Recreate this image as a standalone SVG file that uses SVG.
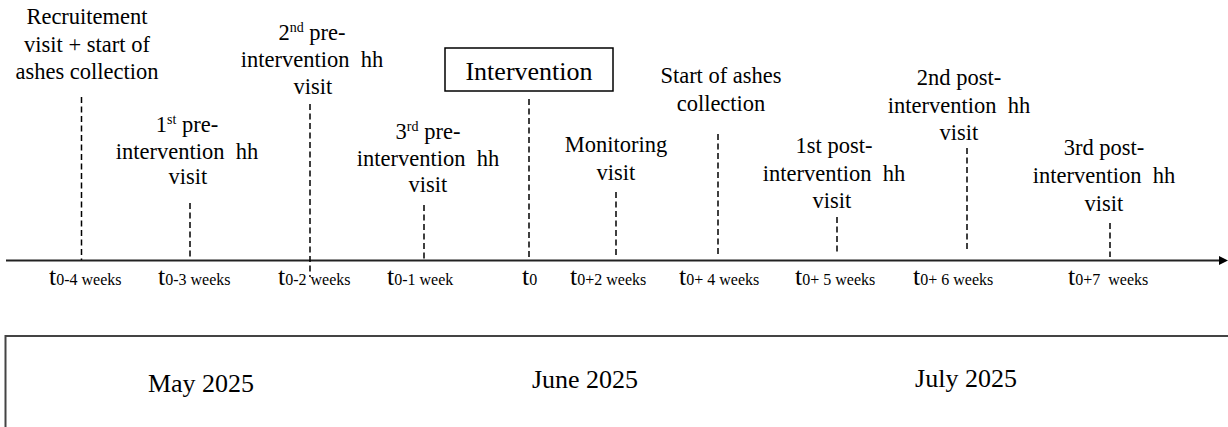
<svg xmlns="http://www.w3.org/2000/svg" width="1228" height="427" viewBox="0 0 1228 427" font-family="'Liberation Serif','Times New Roman',serif">
<style>
text, tspan{font-family:"Liberation Serif","Times New Roman",serif;fill:#000;}
.lb{font-size:22.5px;text-anchor:middle;}
.sup{font-size:14px;}
.big{font-size:26px;}
.sub{font-size:16px;}
.mon{font-size:26px;text-anchor:middle;}
.int{font-size:26px;text-anchor:middle;}
.dash{stroke:#000;stroke-width:1.5;stroke-dasharray:6 3.5;fill:none;}
</style>
<rect width="1228" height="427" fill="#fff"/>
<g id="connectors">
<line x1="6" y1="260.5" x2="1220" y2="260.5" stroke="#222" stroke-width="1.8"/>
<polygon points="1219,256 1228,260.5 1219,265" fill="#000"/>
<line class="dash" x1="81.5" y1="97" x2="81.5" y2="260"/>
<line class="dash" x1="190" y1="203" x2="190" y2="260"/>
<line class="dash" x1="310" y1="104" x2="310" y2="277"/>
<line class="dash" x1="424" y1="205" x2="424" y2="260"/>
<line class="dash" x1="529" y1="99" x2="529" y2="260"/>
<line class="dash" x1="616" y1="192" x2="616" y2="258"/>
<line class="dash" x1="718" y1="134" x2="718" y2="257"/>
<line class="dash" x1="837" y1="217" x2="837" y2="252"/>
<line class="dash" x1="967" y1="148" x2="967" y2="252"/>
<line class="dash" x1="1110" y1="223" x2="1110" y2="257"/>
</g>
<g id="recruitment">
<text class="lb" x="87" y="24">Recruitement</text>
<text class="lb" x="87" y="51.5">visit + start of</text>
<text class="lb" x="87" y="79">ashes collection</text>
</g>
<g id="pre1">
<text class="lb" x="187" y="132">1<tspan class="sup" dy="-8">st</tspan><tspan dy="8"> pre-</tspan></text>
<text class="lb" x="187" y="159" xml:space="preserve">intervention  hh</text>
<text class="lb" x="188" y="184">visit</text>
</g>
<g id="pre2">
<text class="lb" x="312" y="40">2<tspan class="sup" dy="-8">nd</tspan><tspan dy="8"> pre-</tspan></text>
<text class="lb" x="312" y="67" xml:space="preserve">intervention  hh</text>
<text class="lb" x="313" y="94">visit</text>
</g>
<g id="pre3">
<text class="lb" x="428" y="139">3<tspan class="sup" dy="-8">rd</tspan><tspan dy="8"> pre-</tspan></text>
<text class="lb" x="428" y="166" xml:space="preserve">intervention  hh</text>
<text class="lb" x="428" y="192">visit</text>
</g>
<g id="intervention">
<rect x="445" y="48" width="168" height="43" fill="#fff" stroke="#000" stroke-width="1.5"/>
<text class="int" x="529" y="80">Intervention</text>
</g>
<g id="monitoring">
<text class="lb" x="616" y="152">Monitoring</text>
<text class="lb" x="616" y="180">visit</text>
</g>
<g id="ashes">
<text class="lb" x="721" y="83">Start of ashes</text>
<text class="lb" x="721" y="111">collection</text>
</g>
<g id="post1">
<text class="lb" x="834" y="153">1st post-</text>
<text class="lb" x="834" y="180.5" xml:space="preserve">intervention  hh</text>
<text class="lb" x="832" y="208">visit</text>
</g>
<g id="post2">
<text class="lb" x="959" y="85">2nd post-</text>
<text class="lb" x="959" y="113" xml:space="preserve">intervention  hh</text>
<text class="lb" x="959" y="140">visit</text>
</g>
<g id="post3">
<text class="lb" x="1104" y="155">3rd post-</text>
<text class="lb" x="1104" y="183" xml:space="preserve">intervention  hh</text>
<text class="lb" x="1104" y="211">visit</text>
</g>
<g id="ticks">
<text x="49" y="285"><tspan class="big">t</tspan><tspan class="sub">0-4 weeks</tspan></text>
<text x="158" y="285"><tspan class="big">t</tspan><tspan class="sub">0-3 weeks</tspan></text>
<text x="278" y="285"><tspan class="big">t</tspan><tspan class="sub">0-2 weeks</tspan></text>
<text x="387" y="285"><tspan class="big">t</tspan><tspan class="sub">0-1 week</tspan></text>
<text x="522" y="285"><tspan class="big">t</tspan><tspan class="sub">0</tspan></text>
<text x="570" y="285"><tspan class="big">t</tspan><tspan class="sub">0+2 weeks</tspan></text>
<text x="679" y="285"><tspan class="big">t</tspan><tspan class="sub">0+ 4 weeks</tspan></text>
<text x="795" y="285"><tspan class="big">t</tspan><tspan class="sub">0+ 5 weeks</tspan></text>
<text x="913" y="285"><tspan class="big">t</tspan><tspan class="sub">0+ 6 weeks</tspan></text>
<text x="1068" y="285" xml:space="preserve"><tspan class="big">t</tspan><tspan class="sub">0+7  weeks</tspan></text>
</g>
<g id="months">
<rect x="5.5" y="336" width="1240" height="110" fill="none" stroke="#444" stroke-width="2"/>
<text class="mon" x="201" y="392">May 2025</text>
<text class="mon" x="585" y="388">June 2025</text>
<text class="mon" x="966" y="387">July 2025</text>
</g>
</svg>
